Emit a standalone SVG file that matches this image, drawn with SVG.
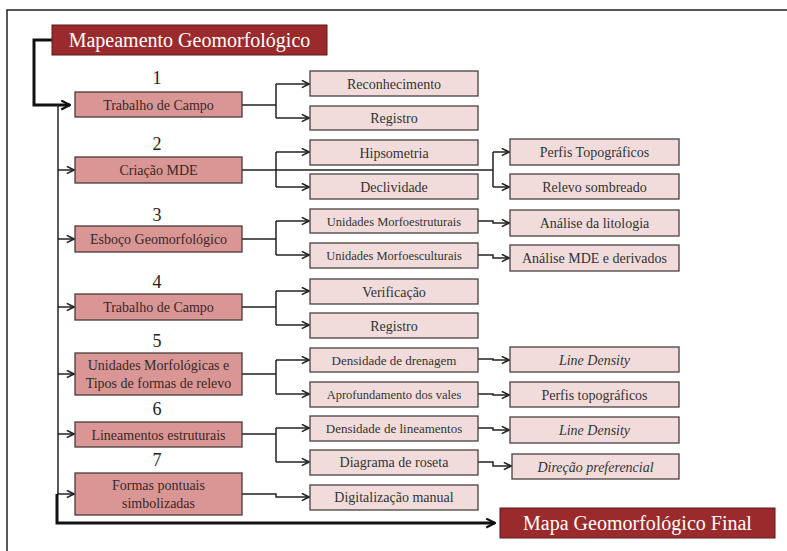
<svg xmlns="http://www.w3.org/2000/svg" width="787" height="551" viewBox="0 0 787 551">
<defs>
<marker id="arr" viewBox="0 0 10 10" refX="9" refY="5" markerWidth="9" markerHeight="9" markerUnits="userSpaceOnUse" orient="auto">
<path d="M1,1 L9,5 L1,9" fill="none" stroke="#222" stroke-width="1.8"/>
</marker>
<marker id="arrb" viewBox="0 0 10 10" refX="9" refY="5" markerWidth="11" markerHeight="11" markerUnits="userSpaceOnUse" orient="auto">
<path d="M1,1 L9,5 L1,9" fill="none" stroke="#111" stroke-width="2"/>
</marker>
</defs>
<style>
text{text-anchor:middle;}
.title rect{fill:#9b2a2c;stroke:#5a1a1a;stroke-width:1;}
.title text{fill:#fff;font-size:20px;}
.main rect{fill:#d99694;stroke:#4a3a3a;stroke-width:1.3;}
.main text{fill:#3a2828;font-size:14px;}
.sub rect{fill:#f2dcdb;stroke:#4a4040;stroke-width:1.3;}
.sub text{fill:#333;font-size:14px;}
.num{fill:#222;font-size:18px;}
.c{fill:none;stroke:#222;stroke-width:1.5;marker-end:url(#arr);}
.cn{fill:none;stroke:#222;stroke-width:1.5;}
.thick{fill:none;stroke:#111;stroke-width:3;}
</style>
<rect x="7" y="10" width="820" height="600" fill="#fff" stroke="#222" stroke-width="1.5"/>

<g id="connectors">
<path class="thick" d="M52,40 H34 V105 H70" marker-end="url(#arrb)"/>
<path class="cn" d="M58,105 V494"/>
<path class="c" d="M58,170 H74"/>
<path class="c" d="M58,239 H74"/>
<path class="c" d="M58,307 H74"/>
<path class="c" d="M58,374 H74"/>
<path class="c" d="M58,434 H74"/>
<path class="c" d="M57,494 H74"/>
<path class="thick" d="M57,494 V523 H495" marker-end="url(#arrb)"/>

<path class="cn" d="M242,105 H276 M276,84 V118"/>
<path class="c" d="M276,84 H309"/><path class="c" d="M276,118 H309"/>
<path class="cn" d="M242,170 H493 M276,152 V187 M493,152 V187"/>
<path class="c" d="M276,152 H309"/><path class="c" d="M276,187 H309"/>
<path class="c" d="M493,152 H509"/><path class="c" d="M493,187 H509"/>
<path class="cn" d="M242,239 H276 M276,221 V255"/>
<path class="c" d="M276,221 H309"/><path class="c" d="M276,255 H309"/>
<path class="cn" d="M242,307 H276 M276,291 V325"/>
<path class="c" d="M276,291 H309"/><path class="c" d="M276,325 H309"/>
<path class="cn" d="M242,374 H276 M276,360 V394"/>
<path class="c" d="M276,360 H309"/><path class="c" d="M276,394 H309"/>
<path class="cn" d="M242,434 H276 M276,428 V462"/>
<path class="c" d="M276,428 H309"/><path class="c" d="M276,462 H309"/>
<path class="c" d="M242,494 H276 V497 H309"/>

<path class="c" d="M478,221 H493 V223 H509"/>
<path class="c" d="M478,255 H493 V258 H509"/>
<path class="c" d="M478,359 H493 V360 H509"/>
<path class="c" d="M478,394 H493 V395 H509"/>
<path class="c" d="M478,428 H493 V430 H509"/>
<path class="c" d="M478,462 H493 V466 H511"/>
</g>

<g font-family="Liberation Serif">
<g id="title" class="title"><rect x="52" y="25" width="275" height="30"/><text x="189.5" y="47">Mapeamento Geomorfológico</text></g>
<g id="final" class="title"><rect x="500" y="508" width="275" height="30"/><text x="637.5" y="530">Mapa Geomorfológico Final</text></g>

<g id="numbers">
<text class="num" x="157" y="84">1</text>
<text class="num" x="157" y="150">2</text>
<text class="num" x="157" y="221">3</text>
<text class="num" x="157" y="288">4</text>
<text class="num" x="157" y="347">5</text>
<text class="num" x="157" y="415">6</text>
<text class="num" x="157" y="466">7</text>
</g>

<g id="m1" class="main"><rect x="75" y="92" width="167" height="25"/><text x="158.5" y="109.5">Trabalho de Campo</text></g>
<g id="m2" class="main"><rect x="75" y="157" width="167" height="26"/><text x="158.5" y="175">Criação MDE</text></g>
<g id="m3" class="main"><rect x="75" y="226" width="167" height="26"/><text x="158.5" y="244">Esboço Geomorfológico</text></g>
<g id="m4" class="main"><rect x="75" y="294" width="167" height="26"/><text x="158.5" y="312">Trabalho de Campo</text></g>
<g id="m5" class="main"><rect x="75" y="353" width="167" height="42"/><text x="158.5" y="370">Unidades Morfológicas e</text><text x="158.5" y="388">Tipos de formas de relevo</text></g>
<g id="m6" class="main"><rect x="75" y="422" width="167" height="25"/><text x="158.5" y="439.5">Lineamentos estruturais</text></g>
<g id="m7" class="main"><rect x="75" y="473" width="167" height="42"/><text x="158.5" y="490">Formas pontuais</text><text x="158.5" y="508">simbolizadas</text></g>

<g id="s1" class="sub"><rect x="310" y="71" width="168" height="25"/><text x="394" y="88.5">Reconhecimento</text></g>
<g id="s2" class="sub"><rect x="310" y="106" width="168" height="24"/><text x="394" y="123">Registro</text></g>
<g id="s3" class="sub"><rect x="310" y="140" width="168" height="25"/><text x="394" y="157.5">Hipsometria</text></g>
<g id="s4" class="sub"><rect x="310" y="174" width="168" height="25"/><text x="394" y="191.5">Declividade</text></g>
<g id="s5" class="sub"><rect x="310" y="209" width="168" height="24"/><text x="394" y="225.5" style="font-size:12.5px">Unidades Morfoestruturais</text></g>
<g id="s6" class="sub"><rect x="310" y="243" width="168" height="25"/><text x="394" y="259.5" style="font-size:12.5px">Unidades Morfoesculturais</text></g>
<g id="s7" class="sub"><rect x="310" y="279" width="168" height="25"/><text x="394" y="296.5">Verificação</text></g>
<g id="s8" class="sub"><rect x="310" y="313" width="168" height="25"/><text x="394" y="330.5">Registro</text></g>
<g id="s9" class="sub"><rect x="310" y="348" width="168" height="24"/><text x="394" y="364.5" style="font-size:13px">Densidade de drenagem</text></g>
<g id="s10" class="sub"><rect x="310" y="382" width="168" height="25"/><text x="394" y="398.5" style="font-size:12.5px">Aprofundamento dos vales</text></g>
<g id="s11" class="sub"><rect x="310" y="416" width="168" height="25"/><text x="394" y="432.5" style="font-size:13px">Densidade de lineamentos</text></g>
<g id="s12" class="sub"><rect x="310" y="450" width="168" height="25"/><text x="394" y="467">Diagrama de roseta</text></g>
<g id="s13" class="sub"><rect x="310" y="485" width="168" height="25"/><text x="394" y="502">Digitalização manual</text></g>

<g id="r1" class="sub"><rect x="510" y="139" width="169" height="26"/><text x="594.5" y="157">Perfis Topográficos</text></g>
<g id="r2" class="sub"><rect x="510" y="174" width="169" height="25"/><text x="594.5" y="191.5">Relevo sombreado</text></g>
<g id="r3" class="sub"><rect x="510" y="210" width="169" height="26"/><text x="594.5" y="228">Análise da litologia</text></g>
<g id="r4" class="sub"><rect x="510" y="245" width="169" height="26"/><text x="594.5" y="263">Análise MDE e derivados</text></g>
<g id="r5" class="sub"><rect x="510" y="347" width="169" height="25"/><text x="594.5" y="364.5" font-style="italic">Line Density</text></g>
<g id="r6" class="sub"><rect x="510" y="382" width="169" height="25"/><text x="594.5" y="399.5">Perfis topográficos</text></g>
<g id="r7" class="sub"><rect x="510" y="417" width="169" height="26"/><text x="594.5" y="435" font-style="italic">Line Density</text></g>
<g id="r8" class="sub"><rect x="512" y="454" width="167" height="25"/><text x="595.5" y="471.5" font-style="italic">Direção preferencial</text></g>
</g>
</svg>
